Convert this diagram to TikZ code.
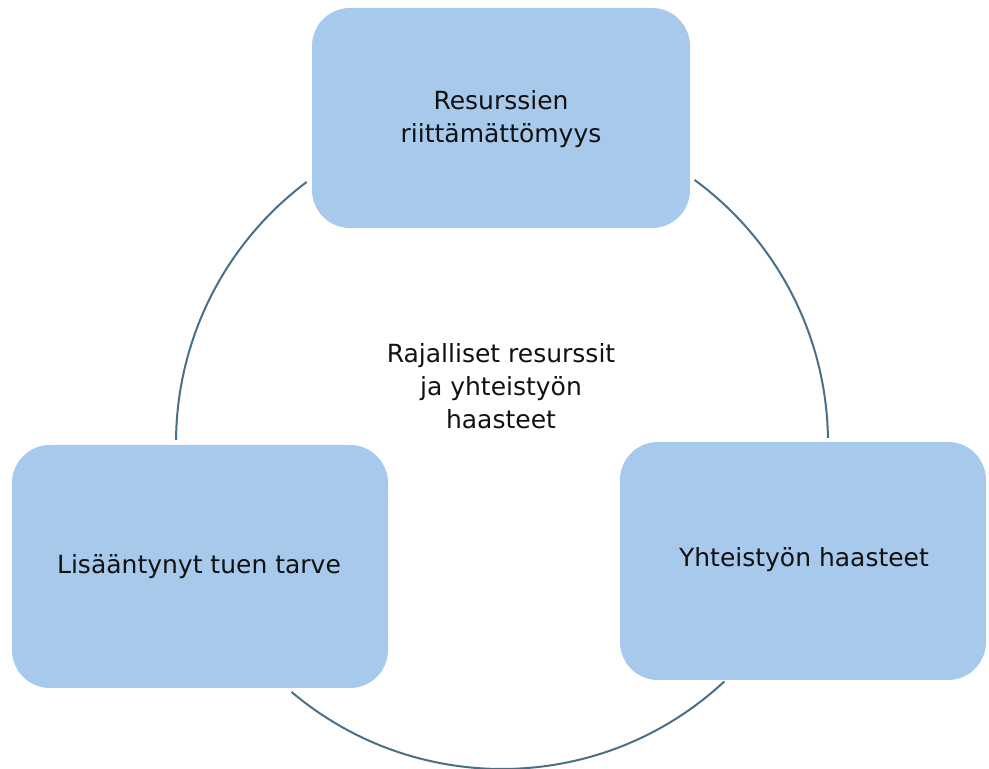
\documentclass[tikz,border=0pt]{standalone}
\usepackage{fontspec}
\setmainfont{DejaVu Sans}
\definecolor{boxblue}{HTML}{A7C9EC}
\definecolor{ringcol}{HTML}{4A6F86}
\definecolor{txt}{HTML}{111111}
\begin{document}
\begin{tikzpicture}[x=1pt,y=1pt,
  lbl/.style={align=center,text=txt,font=\fontsize{25}{33}\selectfont,inner sep=0pt},
  ring/.style={draw=ringcol,line width=2pt}]
\useasboundingbox (0,0) rectangle (989,769);
\coordinate (c) at (502,326);
% ring arcs
\draw[ring] ([shift={(126.8:326pt)}]c) arc[start angle=126.8,end angle=179.5,radius=326pt];
\draw[ring] ([shift={(0.9:326pt)}]c) arc[start angle=0.9,end angle=53.8,radius=326pt];
\draw[ring] ([shift={(229.8:326pt)}]c) arc[start angle=229.8,end angle=313,radius=326pt];
% boxes
\fill[boxblue,rounded corners=38pt] (312,761) rectangle (690,541);
\fill[boxblue,rounded corners=38pt] (12,324) rectangle (388,81);
\fill[boxblue,rounded corners=38pt] (620,327) rectangle (986,89);
% labels
\node[lbl] (top) at (501,650) {Resurssien\\riittämättömyys};
\node[lbl] (mid) at (501,383) {Rajalliset resurssit\\ja yhteistyön\\haasteet};
\node[lbl] (left) at (199,202) {Lisääntynyt tuen tarve};
\node[lbl] (right) at (804,209) {Yhteistyön haasteet};
\end{tikzpicture}
\end{document}
